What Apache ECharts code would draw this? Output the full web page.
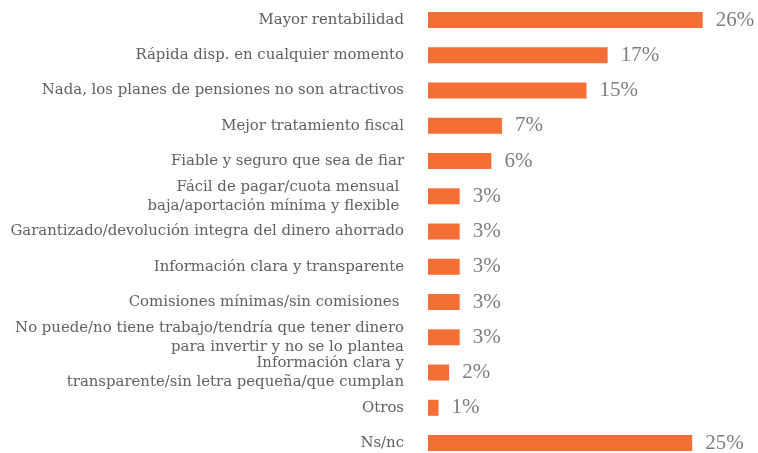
<!DOCTYPE html>
<html>
<head>
<meta charset="utf-8">
<script src="https://cdn.jsdelivr.net/npm/echarts@6/dist/echarts.min.js"></script>
<style>
  html, body { margin: 0; padding: 0; background: #ffffff; }
  #chart { width: 758px; height: 453px; }
</style>
</head>
<body>
<div id="chart"></div>
<script>
const categories = [
  "Mayor rentabilidad",
  "Rápida disp. en cualquier momento",
  "Nada, los planes de pensiones no son atractivos",
  "Mejor tratamiento fiscal",
  "Fiable y seguro que sea de fiar",
  "Fácil de pagar/cuota mensual \nbaja/aportación mínima y flexible ",
  "Garantizado/devolución integra del dinero ahorrado",
  "Información clara y transparente",
  "Comisiones mínimas/sin comisiones ",
  "No puede/no tiene trabajo/tendría que tener dinero\npara invertir y no se lo plantea",
  "Información clara y\ntransparente/sin letra pequeña/que cumplan",
  "Otros",
  "Ns/nc"
];
const values = [26, 17, 15, 7, 6, 3, 3, 3, 3, 3, 2, 1, 25];

const chart = echarts.init(document.getElementById('chart'), null, { renderer: 'canvas' });
chart.setOption({
  animation: false,
  backgroundColor: '#ffffff',
  grid: {
    left: 428,
    top: 2.4,
    width: 317,
    height: 458.25,
    containLabel: false,
    outerBoundsMode: 'none'
  },
  xAxis: {
    type: 'value',
    min: 0,
    max: 30,
    show: false
  },
  yAxis: {
    type: 'category',
    inverse: true,
    data: categories,
    axisLine: { show: false },
    axisTick: { show: false },
    splitLine: { show: false },
    axisLabel: {
      margin: 24,
      fontFamily: 'DejaVu Serif',
      fontSize: 14.9,
      lineHeight: 19,
      color: '#606060',
      align: 'right'
    }
  },
  series: [{
    type: 'bar',
    data: values,
    barWidth: 16,
    itemStyle: { color: '#F36F36' },
    label: {
      show: true,
      position: 'right',
      distance: 13,
      formatter: p => p.value + '%',
      fontFamily: 'Liberation Serif',
      fontSize: 21,
      color: '#7d7d7d'
    }
  }]
});
</script>
</body>
</html>
